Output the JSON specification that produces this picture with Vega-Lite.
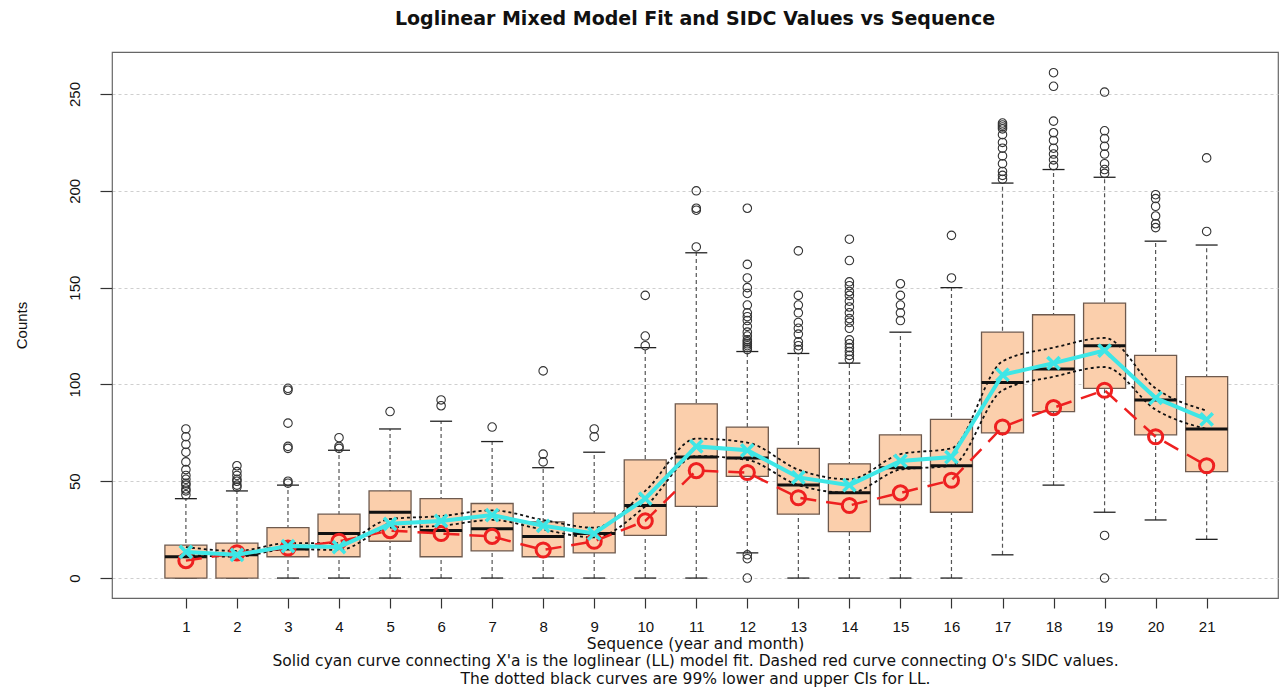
{
  "$schema": "https://vega.github.io/schema/vega-lite/v6.json",
  "autosize": "none",
  "width": 1166,
  "height": 546,
  "padding": {"left": 112, "top": 52, "right": 3, "bottom": 90},
  "background": "white",
  "config": {
    "view": {"stroke": "#666", "strokeWidth": 1.2},
    "font": "Liberation Sans"
  },
  "title": {
    "text": "Loglinear Mixed Model Fit and SIDC Values vs Sequence",
    "font": "DejaVu Sans",
    "fontSize": 19,
    "fontWeight": "bold",
    "color": "#111",
    "anchor": "middle",
    "offset": 23
  },
  "datasets": {
    "boxes": [
      {"seq": 1, "wlo": 0, "q1": 0, "med": 11, "q3": 17, "whi": 41, "fit": 13.5, "lo": 12, "hi": 16, "sidc": 9},
      {"seq": 2, "wlo": 0, "q1": 0, "med": 12, "q3": 18, "whi": 45, "fit": 12, "lo": 11, "hi": 14, "sidc": 13},
      {"seq": 3, "wlo": 0, "q1": 11, "med": 15, "q3": 26, "whi": 48, "fit": 16.5, "lo": 15, "hi": 18, "sidc": 15.5},
      {"seq": 4, "wlo": 0, "q1": 11, "med": 23, "q3": 33, "whi": 66, "fit": 16, "lo": 14.5, "hi": 18, "sidc": 19},
      {"seq": 5, "wlo": 0, "q1": 19, "med": 34, "q3": 45, "whi": 77, "fit": 28, "lo": 26, "hi": 30.5, "sidc": 24.5},
      {"seq": 6, "wlo": 0, "q1": 11, "med": 24.5, "q3": 41, "whi": 81, "fit": 29.5, "lo": 27, "hi": 32, "sidc": 23},
      {"seq": 7, "wlo": 0, "q1": 14, "med": 25.5, "q3": 38.5, "whi": 70.5, "fit": 32.5, "lo": 30, "hi": 35, "sidc": 21.5},
      {"seq": 8, "wlo": 0, "q1": 11, "med": 21.5, "q3": 29, "whi": 57, "fit": 27, "lo": 25, "hi": 30, "sidc": 14.5},
      {"seq": 9, "wlo": 0, "q1": 13, "med": 23, "q3": 33.5, "whi": 65, "fit": 23, "lo": 21, "hi": 26, "sidc": 19},
      {"seq": 10, "wlo": 0, "q1": 22, "med": 37.5, "q3": 61, "whi": 119, "fit": 41, "lo": 37, "hi": 45, "sidc": 29.5},
      {"seq": 11, "wlo": 0, "q1": 37, "med": 62.5, "q3": 90, "whi": 168, "fit": 68, "lo": 63, "hi": 72, "sidc": 55.5},
      {"seq": 12, "wlo": 13, "q1": 52.5, "med": 62, "q3": 78, "whi": 117, "fit": 66, "lo": 61, "hi": 70, "sidc": 54.5},
      {"seq": 13, "wlo": 0, "q1": 33, "med": 48, "q3": 67, "whi": 116, "fit": 52, "lo": 48, "hi": 56, "sidc": 41.5},
      {"seq": 14, "wlo": 0, "q1": 24, "med": 44, "q3": 59, "whi": 111, "fit": 48, "lo": 44, "hi": 51, "sidc": 37.5},
      {"seq": 15, "wlo": 0, "q1": 38, "med": 57, "q3": 74, "whi": 127, "fit": 60.5, "lo": 56, "hi": 64, "sidc": 44},
      {"seq": 16, "wlo": 0, "q1": 34, "med": 58, "q3": 82, "whi": 150, "fit": 62.5, "lo": 58, "hi": 67, "sidc": 50.5},
      {"seq": 17, "wlo": 12, "q1": 75, "med": 101, "q3": 127, "whi": 204, "fit": 105, "lo": 97, "hi": 112, "sidc": 78},
      {"seq": 18, "wlo": 48, "q1": 86, "med": 108, "q3": 136, "whi": 211, "fit": 111, "lo": 104, "hi": 119, "sidc": 88},
      {"seq": 19, "wlo": 34, "q1": 98, "med": 120, "q3": 142, "whi": 207, "fit": 117.5, "lo": 109, "hi": 124, "sidc": 97},
      {"seq": 20, "wlo": 30, "q1": 74, "med": 92, "q3": 115, "whi": 174, "fit": 93, "lo": 87, "hi": 98, "sidc": 73},
      {"seq": 21, "wlo": 20, "q1": 55, "med": 77, "q3": 104, "whi": 172, "fit": 82, "lo": 77, "hi": 86.5, "sidc": 58}
    ],
    "outliers": [
      {"seq": 1, "value": 43}, {"seq": 1, "value": 45}, {"seq": 1, "value": 46}, {"seq": 1, "value": 48}, {"seq": 1, "value": 49}, {"seq": 1, "value": 51}, {"seq": 1, "value": 53}, {"seq": 1, "value": 56}, {"seq": 1, "value": 60}, {"seq": 1, "value": 65}, {"seq": 1, "value": 69}, {"seq": 1, "value": 73}, {"seq": 1, "value": 77},
      {"seq": 2, "value": 47}, {"seq": 2, "value": 48}, {"seq": 2, "value": 50}, {"seq": 2, "value": 51}, {"seq": 2, "value": 53}, {"seq": 2, "value": 55}, {"seq": 2, "value": 58},
      {"seq": 3, "value": 49}, {"seq": 3, "value": 50}, {"seq": 3, "value": 67}, {"seq": 3, "value": 68}, {"seq": 3, "value": 80}, {"seq": 3, "value": 97}, {"seq": 3, "value": 98},
      {"seq": 4, "value": 67}, {"seq": 4, "value": 68}, {"seq": 4, "value": 72.5},
      {"seq": 5, "value": 86},
      {"seq": 6, "value": 89}, {"seq": 6, "value": 92},
      {"seq": 7, "value": 78},
      {"seq": 8, "value": 60}, {"seq": 8, "value": 64}, {"seq": 8, "value": 107},
      {"seq": 9, "value": 73}, {"seq": 9, "value": 77},
      {"seq": 10, "value": 120}, {"seq": 10, "value": 125}, {"seq": 10, "value": 146},
      {"seq": 11, "value": 171}, {"seq": 11, "value": 190}, {"seq": 11, "value": 191}, {"seq": 11, "value": 200},
      {"seq": 12, "value": 0}, {"seq": 12, "value": 10}, {"seq": 12, "value": 12}, {"seq": 12, "value": 118}, {"seq": 12, "value": 119}, {"seq": 12, "value": 120}, {"seq": 12, "value": 121}, {"seq": 12, "value": 122}, {"seq": 12, "value": 123}, {"seq": 12, "value": 125}, {"seq": 12, "value": 127}, {"seq": 12, "value": 130}, {"seq": 12, "value": 133}, {"seq": 12, "value": 135}, {"seq": 12, "value": 137}, {"seq": 12, "value": 141}, {"seq": 12, "value": 147}, {"seq": 12, "value": 150}, {"seq": 12, "value": 155}, {"seq": 12, "value": 162}, {"seq": 12, "value": 191},
      {"seq": 13, "value": 118}, {"seq": 13, "value": 120}, {"seq": 13, "value": 122}, {"seq": 13, "value": 126}, {"seq": 13, "value": 129}, {"seq": 13, "value": 132}, {"seq": 13, "value": 137}, {"seq": 13, "value": 141}, {"seq": 13, "value": 146}, {"seq": 13, "value": 169},
      {"seq": 14, "value": 113}, {"seq": 14, "value": 115}, {"seq": 14, "value": 117}, {"seq": 14, "value": 119}, {"seq": 14, "value": 121}, {"seq": 14, "value": 123}, {"seq": 14, "value": 129}, {"seq": 14, "value": 132}, {"seq": 14, "value": 134}, {"seq": 14, "value": 137}, {"seq": 14, "value": 140}, {"seq": 14, "value": 143}, {"seq": 14, "value": 146}, {"seq": 14, "value": 148}, {"seq": 14, "value": 151}, {"seq": 14, "value": 153}, {"seq": 14, "value": 164}, {"seq": 14, "value": 175},
      {"seq": 15, "value": 133}, {"seq": 15, "value": 137}, {"seq": 15, "value": 141}, {"seq": 15, "value": 146}, {"seq": 15, "value": 152},
      {"seq": 16, "value": 155}, {"seq": 16, "value": 177},
      {"seq": 17, "value": 206}, {"seq": 17, "value": 208}, {"seq": 17, "value": 210}, {"seq": 17, "value": 214}, {"seq": 17, "value": 218}, {"seq": 17, "value": 222}, {"seq": 17, "value": 225}, {"seq": 17, "value": 229}, {"seq": 17, "value": 232}, {"seq": 17, "value": 233}, {"seq": 17, "value": 234}, {"seq": 17, "value": 235},
      {"seq": 18, "value": 213}, {"seq": 18, "value": 216}, {"seq": 18, "value": 219}, {"seq": 18, "value": 222}, {"seq": 18, "value": 226}, {"seq": 18, "value": 230}, {"seq": 18, "value": 236}, {"seq": 18, "value": 254}, {"seq": 18, "value": 261},
      {"seq": 19, "value": 0}, {"seq": 19, "value": 22}, {"seq": 19, "value": 209}, {"seq": 19, "value": 211}, {"seq": 19, "value": 214}, {"seq": 19, "value": 219}, {"seq": 19, "value": 223}, {"seq": 19, "value": 227}, {"seq": 19, "value": 231}, {"seq": 19, "value": 251},
      {"seq": 20, "value": 181}, {"seq": 20, "value": 183}, {"seq": 20, "value": 187}, {"seq": 20, "value": 192}, {"seq": 20, "value": 196}, {"seq": 20, "value": 198},
      {"seq": 21, "value": 179}, {"seq": 21, "value": 217}
    ]
  },
  "data": {"name": "boxes"},
  "encoding": {
    "x": {
      "field": "seq",
      "type": "quantitative",
      "scale": {"domain": [-0.35, 22.3], "nice": false, "zero": false},
      "axis": {
        "values": [1, 2, 3, 4, 5, 6, 7, 8, 9, 10, 11, 12, 13, 14, 15, 16, 17, 18, 19, 20, 21],
        "format": "d",
        "grid": false,
        "domain": false,
        "tickSize": 10,
        "tickColor": "#333",
        "tickWidth": 1.2,
        "labelFontSize": 15,
        "labelColor": "#111",
        "labelPadding": 11,
        "title": ["Sequence (year and month)", "Solid cyan curve connecting X'a is the loglinear (LL) model fit. Dashed red curve connecting O's SIDC values.", "The dotted black curves are 99% lower and upper CIs for LL."],
        "titleFont": "DejaVu Sans",
        "titleFontSize": 15.5,
        "titleFontWeight": "normal",
        "titleColor": "#111",
        "titleLineHeight": 17.5,
        "titlePadding": 2
      }
    }
  },
  "layer": [
    {
      "mark": {"type": "rule", "color": "#555", "strokeDash": [4, 3], "strokeWidth": 1.2},
      "encoding": {
        "y": {
          "field": "wlo",
          "type": "quantitative",
          "scale": {"domain": [-10.3, 271.7], "nice": false, "zero": false},
          "axis": {
            "values": [0, 50, 100, 150, 200, 250],
            "grid": true,
            "gridDash": [3, 3],
            "gridColor": "#cfcfcf",
            "gridWidth": 1,
            "domain": false,
            "tickSize": 12,
            "tickColor": "#333",
            "tickWidth": 1.2,
            "labelAngle": -90,
            "labelAlign": "center",
            "labelBaseline": "bottom",
            "labelFontSize": 15,
            "labelColor": "#111",
            "labelPadding": 18,
            "title": "Counts",
            "titleFontSize": 15,
            "titleFontWeight": "normal",
            "titleColor": "#111",
            "titlePadding": 38
          }
        },
        "y2": {"field": "whi"}
      }
    },
    {
      "mark": {"type": "tick", "orient": "horizontal", "size": 22, "thickness": 1.3, "color": "#222", "opacity": 1},
      "encoding": {"y": {"field": "whi", "type": "quantitative"}}
    },
    {
      "mark": {"type": "tick", "orient": "horizontal", "size": 22, "thickness": 1.3, "color": "#222", "opacity": 1},
      "encoding": {"y": {"field": "wlo", "type": "quantitative"}}
    },
    {
      "mark": {"type": "bar", "width": 42, "fill": "#FBCFAC", "stroke": "#6e5a4e", "strokeWidth": 1.3},
      "encoding": {"y": {"field": "q1", "type": "quantitative"}, "y2": {"field": "q3"}}
    },
    {
      "mark": {"type": "tick", "orient": "horizontal", "size": 42, "thickness": 3, "color": "#111", "opacity": 1},
      "encoding": {"y": {"field": "med", "type": "quantitative"}}
    },
    {
      "data": {"name": "outliers"},
      "mark": {"type": "point", "shape": "circle", "filled": false, "stroke": "#333", "strokeWidth": 1.1, "size": 72, "opacity": 1},
      "encoding": {"y": {"field": "value", "type": "quantitative"}}
    },
    {
      "mark": {"type": "line", "interpolate": "monotone", "color": "#111", "strokeDash": [3, 3], "strokeWidth": 1.8},
      "encoding": {"y": {"field": "lo", "type": "quantitative"}}
    },
    {
      "mark": {"type": "line", "interpolate": "monotone", "color": "#111", "strokeDash": [3, 3], "strokeWidth": 1.8},
      "encoding": {"y": {"field": "hi", "type": "quantitative"}}
    },
    {
      "mark": {"type": "line", "color": "#EE2020", "strokeDash": [16, 10], "strokeWidth": 2.5},
      "encoding": {"y": {"field": "sidc", "type": "quantitative"}}
    },
    {
      "mark": {"type": "point", "shape": "circle", "filled": false, "stroke": "#EE2020", "strokeWidth": 3, "size": 200, "opacity": 1},
      "encoding": {"y": {"field": "sidc", "type": "quantitative"}}
    },
    {
      "mark": {"type": "line", "color": "#3EE6E6", "strokeWidth": 4},
      "encoding": {"y": {"field": "fit", "type": "quantitative"}}
    },
    {
      "mark": {"type": "point", "shape": "M-1,-1L1,1M-1,1L1,-1", "filled": false, "stroke": "#3EE6E6", "strokeWidth": 3.5, "size": 150, "opacity": 1},
      "encoding": {"y": {"field": "fit", "type": "quantitative"}}
    }
  ]
}
